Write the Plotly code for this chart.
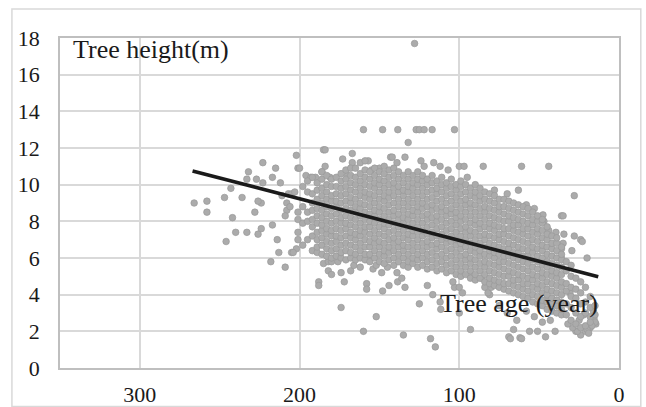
import plotly.graph_objects as go

# sparse points (age in years, height in m)
edge_age = [266, 258, 258, 247, 243, 242, 246, 240, 236, 233, 232, 233, 227, 223, 224, 226, 228, 224, 226, 223,
            217, 215, 217, 214, 213, 212, 211, 218, 209, 208, 208, 209, 206, 207, 205, 205, 203, 202, 201, 201,
            201, 201, 201, 202, 204,
            128, 160, 148, 138.5, 127, 125, 122, 117, 103, 132, 185, 184, 167, 173, 167, 162, 157, 159, 143, 142,
            139, 134, 124, 116, 122, 112, 107, 100, 97, 85, 61, 44, 95, 78, 184, 186, 200, 196, 193, 190, 181,
            170, 155, 150,
            28, 36, 35, 24, 29.5, 20, 28, 34.5, 35, 36, 39.5, 44, 47, 47.6, 53, 58, 70, 63, 23, 36,
            185, 182, 180, 176, 182, 180, 188, 188, 174, 172, 168, 166, 162, 158, 158, 174, 152, 160, 157, 154,
            152, 148, 144, 148.6, 145, 138.6, 139, 134, 136, 125, 135, 118, 115, 116.6, 111.6, 112, 120, 103, 104,
            100, 98, 93, 100, 93, 86, 84, 81, 82, 80, 69, 62, 56, 51, 46, 40, 66, 27, 24, 21, 18, 14.5, 15.7,
            45, 30.7, 18, 15, 26, 61, 68, 70, 64, 58, 75, 53, 48, 43,
            17, 20, 25, 22, 16, 19, 29, 32]
edge_height = [9.0, 9.1, 8.5, 9.3, 9.8, 8.2, 6.9, 7.4, 9.3, 7.4, 10.7, 10.3, 10.3, 11.2, 9.0, 9.1, 8.5, 7.6, 7.3, 10.1,
               10.4, 10.9, 7.8, 7.0, 6.3, 10.1, 9.4, 5.8, 5.5, 9.0, 8.6, 8.3, 8.8, 9.5, 9.5, 6.3, 9.6, 11.6, 10.9, 8.5,
               8.1, 7.4, 7.0, 6.5, 6.3,
               17.7, 13.0, 13.0, 13.0, 13.0, 13.0, 13.0, 13.0, 13.0, 12.3, 11.9, 11.9, 11.7, 11.4, 11.2, 11.2, 11.3, 11.3, 11.5, 11.5,
               11.2, 11.5, 11.3, 11.2, 11.0, 11.0, 10.8, 11.0, 11.0, 11.0, 11.0, 11.0, 10.4, 9.7, 11.0, 10.7, 10.9, 10.5, 10.4, 10.4, 10.4,
               10.5, 10.8, 10.9,
               9.4, 8.3, 8.3, 7.0, 6.4, 6.0, 7.2, 7.3, 6.8, 6.0, 7.4, 7.5, 8.0, 8.35, 8.7, 8.9, 9.5, 9.7, 6.9, 6.5,
               5.7, 5.8, 5.8, 5.8, 5.3, 5.1, 4.7, 4.5, 5.2, 4.7, 5.3, 5.6, 5.5, 4.6, 4.3, 3.3, 2.8, 2.0, 5.9, 5.4,
               5.6, 4.2, 4.5, 5.2, 5.5, 4.7, 5.2, 4.4, 4.9, 3.5, 1.8, 1.6, 1.15, 4.0, 3.2, 3.6, 4.5, 4.4, 4.7,
               4.4, 4.1, 2.1, 3.0, 5.0, 4.9, 4.4, 4.0, 4.1, 4.4, 1.7, 1.65, 2.0, 2.0, 1.7, 2.0, 2.1, 2.0, 1.8, 2.0, 2.2, 2.4, 2.7,
               3.8, 4.1, 2.8, 2.5, 2.0, 1.6, 1.6, 3.0, 2.6, 3.1, 3.4, 2.8, 2.5, 2.6,
               2.3, 2.1, 2.6, 2.9, 3.1, 1.9, 2.2, 2.4]

# dense core of the cloud, read column by column
core_age = [198, 195, 192, 189, 186, 183, 180, 177, 174, 171, 168, 165, 162, 159, 156, 153, 150, 147, 144, 141,
            138, 135, 132, 129, 126, 123, 120, 117, 114, 111, 108, 105, 102, 99, 96, 93, 90, 87, 84, 81,
            78, 75, 72, 69, 66, 63, 60, 57, 54, 51, 48, 45, 42, 39, 36, 33, 30, 27, 24, 21, 18, 15]
core_height = [
    [6.7, 7.9, 8.8, 9.9],
    [7.0, 8.0, 8.5, 9.6, 10.2],
    [6.4, 7.2, 7.7, 8.1, 8.6, 9.0, 9.5, 10.4],
    [6.3, 6.6, 7.0, 7.4, 7.9, 8.3, 8.7, 9.2, 9.7, 10.1],
    [6.2, 6.7, 7.1, 7.5, 7.8, 8.2, 8.6, 9.0, 9.4, 9.8, 10.3, 10.7],
    [6.1, 6.5, 6.9, 7.3, 7.6, 8.0, 8.4, 8.8, 9.2, 9.6, 10.0, 10.5],
    [6.0, 6.4, 6.8, 7.2, 7.5, 7.9, 8.3, 8.7, 9.1, 9.4, 9.9, 10.3],
    [6.1, 6.5, 6.9, 7.2, 7.6, 8.0, 8.4, 8.8, 9.1, 9.5, 9.9, 10.4],
    [6.0, 6.3, 6.7, 7.1, 7.5, 7.9, 8.2, 8.6, 9.0, 9.4, 9.8, 10.2, 10.6],
    [5.9, 6.4, 6.8, 7.2, 7.6, 7.9, 8.3, 8.7, 9.1, 9.5, 9.9, 10.3, 10.8],
    [6.0, 6.3, 6.7, 7.1, 7.4, 7.8, 8.2, 8.6, 9.0, 9.3, 9.7, 10.1, 10.5, 10.9],
    [5.9, 6.2, 6.6, 7.0, 7.3, 7.7, 8.1, 8.5, 8.8, 9.2, 9.6, 10.0, 10.4, 10.9],
    [6.0, 6.4, 6.8, 7.2, 7.5, 7.9, 8.3, 8.7, 9.0, 9.4, 9.8, 10.2, 10.6],
    [5.9, 6.2, 6.6, 7.0, 7.4, 7.7, 8.1, 8.5, 8.9, 9.3, 9.6, 10.0, 10.4, 10.8],
    [5.8, 6.2, 6.6, 6.9, 7.3, 7.7, 8.0, 8.4, 8.8, 9.2, 9.5, 9.9, 10.3, 10.7],
    [6.0, 6.4, 6.8, 7.1, 7.5, 7.9, 8.3, 8.6, 9.0, 9.4, 9.8, 10.1, 10.5, 10.9],
    [5.8, 6.2, 6.6, 6.9, 7.3, 7.7, 8.1, 8.5, 8.8, 9.2, 9.6, 10.0, 10.3, 10.7],
    [5.7, 6.1, 6.4, 6.8, 7.2, 7.6, 7.9, 8.3, 8.7, 9.1, 9.4, 9.8, 10.2, 10.6, 11.0],
    [5.9, 6.3, 6.6, 7.0, 7.4, 7.8, 8.1, 8.5, 8.9, 9.3, 9.6, 10.0, 10.4, 10.8],
    [5.6, 6.0, 6.4, 6.8, 7.1, 7.5, 7.9, 8.3, 8.6, 9.0, 9.4, 9.8, 10.1, 10.5, 10.9],
    [5.8, 6.2, 6.6, 6.9, 7.3, 7.7, 8.1, 8.4, 8.8, 9.2, 9.6, 9.9, 10.3, 10.7],
    [5.6, 6.0, 6.4, 6.7, 7.1, 7.5, 7.9, 8.2, 8.6, 9.0, 9.4, 9.7, 10.1, 10.5],
    [5.5, 5.8, 6.2, 6.6, 7.0, 7.3, 7.7, 8.1, 8.4, 8.8, 9.2, 9.6, 9.9, 10.3, 10.7],
    [5.7, 6.0, 6.4, 6.8, 7.2, 7.5, 7.9, 8.3, 8.6, 9.0, 9.4, 9.8, 10.1, 10.5],
    [5.5, 5.9, 6.2, 6.6, 7.0, 7.4, 7.7, 8.1, 8.5, 8.8, 9.2, 9.6, 10.0, 10.3, 10.7],
    [5.6, 6.0, 6.4, 6.8, 7.2, 7.5, 7.9, 8.3, 8.7, 9.0, 9.4, 9.8, 10.2, 10.5],
    [5.4, 5.8, 6.2, 6.6, 6.9, 7.3, 7.7, 8.1, 8.4, 8.8, 9.2, 9.6, 10.0, 10.3],
    [5.5, 5.9, 6.3, 6.7, 7.1, 7.4, 7.8, 8.2, 8.6, 8.9, 9.3, 9.7, 10.1, 10.5],
    [5.3, 5.7, 6.1, 6.5, 6.8, 7.2, 7.6, 8.0, 8.3, 8.7, 9.1, 9.5, 9.8, 10.2],
    [5.4, 5.8, 6.2, 6.6, 7.0, 7.3, 7.7, 8.1, 8.5, 8.8, 9.2, 9.6, 10.0, 10.4],
    [5.2, 5.6, 6.0, 6.4, 6.8, 7.1, 7.5, 7.9, 8.3, 8.6, 9.0, 9.4, 9.8, 10.1],
    [5.3, 5.7, 6.1, 6.5, 6.9, 7.2, 7.6, 8.0, 8.4, 8.7, 9.1, 9.5, 9.9, 10.3],
    [5.1, 5.5, 5.9, 6.3, 6.7, 7.0, 7.4, 7.8, 8.2, 8.5, 8.9, 9.3, 9.7, 10.0],
    [5.0, 5.3, 5.7, 6.1, 6.5, 6.8, 7.2, 7.6, 8.0, 8.3, 8.7, 9.1, 9.5, 9.9, 10.2],
    [5.1, 5.5, 5.9, 6.2, 6.6, 7.0, 7.4, 7.7, 8.1, 8.5, 8.9, 9.2, 9.6, 10.0],
    [4.9, 5.3, 5.7, 6.0, 6.4, 6.8, 7.2, 7.5, 7.9, 8.3, 8.7, 9.0, 9.4, 9.8],
    [4.8, 5.1, 5.5, 5.9, 6.3, 6.6, 7.0, 7.4, 7.8, 8.1, 8.5, 8.9, 9.3, 9.6, 10.0],
    [4.9, 5.3, 5.7, 6.1, 6.4, 6.8, 7.2, 7.6, 7.9, 8.3, 8.7, 9.1, 9.4, 9.8],
    [4.7, 5.1, 5.5, 5.8, 6.2, 6.6, 7.0, 7.3, 7.7, 8.1, 8.5, 8.8, 9.2, 9.6],
    [4.6, 4.9, 5.3, 5.7, 6.1, 6.4, 6.8, 7.2, 7.6, 7.9, 8.3, 8.7, 9.1, 9.5],
    [4.5, 4.8, 5.2, 5.6, 6.0, 6.3, 6.7, 7.1, 7.5, 7.8, 8.2, 8.6, 9.0, 9.4],
    [4.4, 4.7, 5.1, 5.5, 5.8, 6.2, 6.6, 7.0, 7.3, 7.7, 8.1, 8.5, 8.8, 9.2],
    [4.3, 4.6, 5.0, 5.4, 5.8, 6.1, 6.5, 6.9, 7.3, 7.6, 8.0, 8.4, 8.8, 9.2],
    [4.2, 4.6, 5.0, 5.3, 5.7, 6.1, 6.5, 6.8, 7.2, 7.6, 8.0, 8.3, 8.7, 9.1],
    [4.1, 4.5, 4.8, 5.2, 5.6, 6.0, 6.3, 6.7, 7.1, 7.5, 7.8, 8.2, 8.6, 9.0],
    [4.0, 4.4, 4.8, 5.1, 5.5, 5.9, 6.3, 6.6, 7.0, 7.4, 7.8, 8.1, 8.5, 8.9],
    [3.9, 4.3, 4.6, 5.0, 5.4, 5.8, 6.1, 6.5, 6.9, 7.3, 7.6, 8.0, 8.4, 8.8],
    [3.8, 4.2, 4.6, 4.9, 5.3, 5.7, 6.1, 6.4, 6.8, 7.2, 7.6, 7.9, 8.3, 8.7],
    [3.6, 4.0, 4.4, 4.8, 5.1, 5.5, 5.9, 6.3, 6.6, 7.0, 7.4, 7.8, 8.1, 8.5],
    [3.5, 3.9, 4.3, 4.6, 5.0, 5.4, 5.8, 6.1, 6.5, 6.9, 7.3, 7.6, 8.0, 8.3],
    [3.4, 3.7, 4.1, 4.5, 4.9, 5.2, 5.6, 6.0, 6.4, 6.7, 7.1, 7.5, 7.9, 8.1],
    [3.2, 3.6, 4.0, 4.3, 4.7, 5.1, 5.5, 5.8, 6.2, 6.6, 7.0, 7.3, 7.7],
    [3.1, 3.5, 3.8, 4.2, 4.6, 5.0, 5.3, 5.7, 6.1, 6.5, 6.8, 7.2],
    [3.0, 3.4, 3.7, 4.1, 4.5, 4.9, 5.2, 5.6, 6.0, 6.4, 6.8, 7.1],
    [2.9, 3.2, 3.6, 4.0, 4.4, 4.7, 5.1, 5.5, 5.9, 6.2, 6.6],
    [2.9, 3.5, 4.2, 4.6, 5.3, 5.8],
    [2.6, 3.3, 3.9, 4.4, 5.0, 5.6],
    [2.4, 3.0, 3.8, 4.3, 4.9],
    [2.2, 2.8, 3.5, 4.1, 4.7],
    [2.3, 3.0, 3.6, 4.4],
    [2.5, 3.3, 3.9],
    [2.9, 3.4],
]

# linear trend, end points
trend_age = [267, 13]
trend_height = [10.75, 4.98]

x_ticks = [300, 200, 100, 0]
y_ticks = [0, 2, 4, 6, 8, 10, 12, 14, 16, 18]

ages = list(edge_age)
heights = list(edge_height)
for a, hs in zip(core_age, core_height):
    for h in hs:
        ages.append(a)
        heights.append(h)

serif = "Liberation Serif"
grid = "#d9d9d9"
tick_font = dict(family=serif, size=22, color="#1a1a1a")

fig = go.Figure()
fig.add_trace(go.Scatter(
    x=ages, y=heights, mode="markers",
    marker=dict(size=6.6, color="#ababab", line=dict(color="#9a9a9a", width=0.7)),
    hoverinfo="skip",
))
fig.add_trace(go.Scatter(
    x=trend_age, y=trend_height, mode="lines",
    line=dict(color="#1a1a1a", width=3.7),
    hoverinfo="skip",
))

fig.update_layout(
    width=646, height=407,
    margin=dict(l=60, r=27, t=38, b=39),
    paper_bgcolor="white", plot_bgcolor="white",
    showlegend=False,
    font=dict(family=serif, size=22, color="#1a1a1a"),
    xaxis=dict(range=[350, 0], tickvals=x_ticks, showgrid=True, gridcolor=grid, gridwidth=1.5,
               zeroline=False, showline=True, linecolor="#bfbfbf", linewidth=1.5, mirror=True,
               ticks="", ticklabelstandoff=6, tickfont=tick_font, automargin=False),
    yaxis=dict(range=[0, 18], tickvals=y_ticks, showgrid=True, gridcolor=grid, gridwidth=1.5,
               zeroline=False, showline=True, linecolor="#bfbfbf", linewidth=1.5, mirror=True,
               ticks="", ticklabelstandoff=14, tickfont=tick_font, automargin=False),
    annotations=[
        dict(text="Tree height(m)", xref="paper", yref="paper", x=0.02, y=0.964,
             xanchor="left", yanchor="middle", showarrow=False,
             font=dict(family=serif, size=26, color="#1a1a1a")),
        dict(text="Tree age (year)", xref="paper", yref="paper", x=0.676, y=0.194,
             xanchor="left", yanchor="middle", showarrow=False,
             font=dict(family=serif, size=26, color="#1a1a1a")),
    ],
    shapes=[
        dict(type="rect", xref="paper", yref="paper", x0=-0.086, x1=1.039, y0=-0.117, y1=1.088,
             line=dict(color="#d9d9d9", width=1.5), layer="below"),
    ],
)

# the page body has a default 8px margin; drop it so the figure sits at the window corner
fig.write_html("out.html", config={"displayModeBar": False},
               post_script="document.body.style.margin='0';")
